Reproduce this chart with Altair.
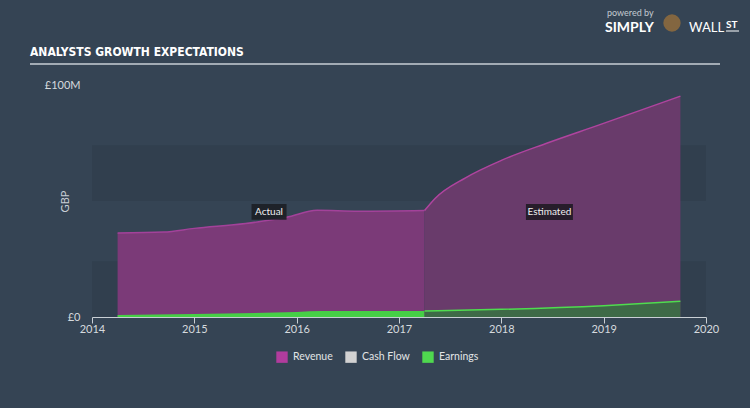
import altair as alt
import pandas as pd

# ---------------- data (£ millions) ----------------
rev_actual_year = [2014.25, 2014.7, 2015.0, 2015.5, 2015.9, 2016.2, 2016.6, 2017.25]
rev_actual_val = [36.2, 36.6, 38.2, 40.3, 43.0, 46.0, 45.6, 45.9]
rev_est_year = [2017.25, 2017.35, 2017.65, 2018.0, 2018.45, 2018.95, 2019.75]
rev_est_val = [45.9, 51.0, 60.0, 67.5, 75.0, 82.7, 95.2]

earn_actual_year = [2014.25, 2015.0, 2016.0, 2016.25, 2017.25]
earn_actual_val = [0.9, 1.3, 2.2, 2.6, 2.6]
earn_est_year = [2017.25, 2018.0, 2019.0, 2019.75]
earn_est_val = [2.6, 3.3, 4.9, 6.8]

series_names = ["Revenue", "Cash Flow", "Earnings"]
series_colors = ["#b13c9d", "#d2d2d2", "#4fd84f"]

band_lo = [0, 50]
band_hi = [24, 74]

ann_labels = ["Actual", "Estimated"]
ann_year = [2015.73, 2018.47]
ann_value = [45.3, 45.3]

BG = "#354454"
FONT = "Lato"

rev_a = pd.DataFrame({"year": rev_actual_year, "value": rev_actual_val})
rev_e = pd.DataFrame({"year": rev_est_year, "value": rev_est_val})
earn_a = pd.DataFrame({"year": earn_actual_year, "value": earn_actual_val})
earn_e = pd.DataFrame({"year": earn_est_year, "value": earn_est_val})
bands = pd.DataFrame({"lo": band_lo, "hi": band_hi, "x0": [2014, 2014], "x1": [2020, 2020]})
ann = pd.DataFrame({"label": ann_labels, "year": ann_year, "value": ann_value})
legend_df = pd.DataFrame({"series": series_names})

xscale = alt.Scale(domain=[2014, 2020], nice=False, zero=False)
yscale = alt.Scale(domain=[0, 100], nice=False)

x_axis = alt.Axis(
    values=[2014, 2015, 2016, 2017, 2018, 2019, 2020], format="d", title=None,
    grid=False, domainColor="#c9cfd5", domainWidth=1, tickColor="#c9cfd5",
    tickSize=6, labelColor="#d5dade", labelFontSize=11, labelFont=FONT,
    labelPadding=0, labelFlush=False,
)
y_axis = alt.Axis(
    values=[0, 100], labelExpr="datum.value == 0 ? '£0' : '£100M'",
    title="GBP", titleAngle=270, titleX=-27, titleY=116, titleAlign="center",
    titleBaseline="middle", titleColor="#c8ced4", titleFont=FONT, titleFontSize=11,
    titleFontWeight="normal", grid=False, domain=False, ticks=False,
    labelColor="#d5dade", labelFontSize=11, labelFont=FONT, labelPadding=12,
    labelFlush=False,
)

X = alt.X("year:Q", scale=xscale, axis=x_axis)
Y = alt.Y("value:Q", scale=yscale, axis=y_axis)

band_layer = alt.Chart(bands).mark_rect(color="#313f4e").encode(
    x=alt.X("x0:Q", scale=xscale, axis=x_axis), x2="x1:Q",
    y=alt.Y("lo:Q", scale=yscale, axis=y_axis), y2="hi:Q",
)

rev_a_area = alt.Chart(rev_a).mark_area(interpolate="monotone", color="#7b3a78").encode(x=X, y=Y)
rev_e_area = alt.Chart(rev_e).mark_area(interpolate="monotone", color="#693b6b").encode(x=X, y=Y)
rev_a_line = alt.Chart(rev_a).mark_line(interpolate="monotone", color="#a3429a", strokeWidth=1.5).encode(x=X, y=Y)
rev_e_line = alt.Chart(rev_e).mark_line(interpolate="monotone", color="#b0449f", strokeWidth=1.5).encode(x=X, y=Y)

earn_a_area = alt.Chart(earn_a).mark_area(interpolate="monotone", color="#46cf46").encode(x=X, y=Y)
earn_e_area = alt.Chart(earn_e).mark_area(interpolate="monotone", color="#3e6a47").encode(x=X, y=Y)
earn_e_line = alt.Chart(earn_e).mark_line(interpolate="monotone", color="#4fdc4f", strokeWidth=1.5).encode(x=X, y=Y)

box_actual = alt.Chart(ann).transform_filter("datum.label == 'Actual'").mark_point(
    shape="M-1,-0.45H1V0.45H-1Z", size=1225, filled=True, color="#1e2127", opacity=0.95
).encode(x=X, y=Y)
box_est = alt.Chart(ann).transform_filter("datum.label == 'Estimated'").mark_point(
    shape="M-1,-0.34H1V0.34H-1Z", size=2209, filled=True, color="#241b28", opacity=0.95
).encode(x=X, y=Y)
ann_text = alt.Chart(ann).mark_text(
    font=FONT, fontSize=10, color="#f0f0f0", align="center", baseline="middle"
).encode(x=X, y=Y, text="label:N")

legend_layer = alt.Chart(legend_df).transform_filter("false").mark_square().encode(
    x=alt.value(0), y=alt.value(0),
    color=alt.Color(
        "series:N",
        scale=alt.Scale(domain=series_names, range=series_colors),
        legend=alt.Legend(
            title=None, orient="none", direction="horizontal", legendX=184, legendY=266,
            symbolType="square", symbolSize=130, symbolStrokeWidth=0, symbolOpacity=1,
            labelColor="#e2e4e6", labelFont=FONT, labelFontSize=10.5, labelOffset=5,
            columnPadding=12,
        ),
    ),
)

one = legend_df.head(1)
title_text = alt.Chart(one).mark_text(
    text="ANALYSTS GROWTH EXPECTATIONS",
    font="DejaVu Sans Condensed", fontWeight="bold",
    fontSize=12, color="#ffffff", align="left", baseline="middle",
).encode(x=alt.value(-62), y=alt.value(-33))
title_rule = alt.Chart(one).mark_rule(color="#c7ced5", strokeWidth=1.5).encode(
    x=alt.value(-62), x2=alt.value(628), y=alt.value(-21)
)
logo_small = alt.Chart(one).mark_text(
    text="powered by", font=FONT, fontSize=9, color="#c3cad1", align="left", baseline="middle"
).encode(x=alt.value(515), y=alt.value(-72))
logo_simply = alt.Chart(one).mark_text(
    text="SIMPLY", font=FONT, fontSize=14, fontWeight="bold", color="#ffffff", align="left",
    baseline="middle",
).encode(x=alt.value(513), y=alt.value(-57))
logo_head = alt.Chart(one).mark_point(
    shape="circle", size=300, filled=True, color="#8c6a3e", opacity=0.9
).encode(x=alt.value(580), y=alt.value(-62))
logo_wall = alt.Chart(one).mark_text(
    text="WALL", font=FONT, fontSize=13, color="#ffffff", align="left", baseline="middle"
).encode(x=alt.value(597), y=alt.value(-57))
logo_st = alt.Chart(one).mark_text(
    text="ST", font=FONT, fontSize=10, fontWeight="bold", color="#ffffff", align="left",
    baseline="middle",
).encode(x=alt.value(634), y=alt.value(-60))
logo_st_rule = alt.Chart(one).mark_rule(color="#ffffff", strokeWidth=1).encode(
    x=alt.value(634), x2=alt.value(647), y=alt.value(-54)
)

chart = alt.layer(
    band_layer, rev_a_area, rev_e_area, rev_a_line, rev_e_line,
    earn_a_area, earn_e_area, earn_e_line,
    box_actual, box_est, ann_text, legend_layer,
    title_text, title_rule, logo_small, logo_simply, logo_head, logo_wall, logo_st, logo_st_rule,
).properties(
    width=614, height=232,
    autosize=alt.AutoSizeParams(type="none"),
    padding={"left": 92, "top": 85, "right": 44, "bottom": 91},
    background=BG,
).configure_view(stroke=None).configure_axis(labelFont=FONT)

chart.save("out.html", embed_options={"renderer": "svg", "actions": False})
